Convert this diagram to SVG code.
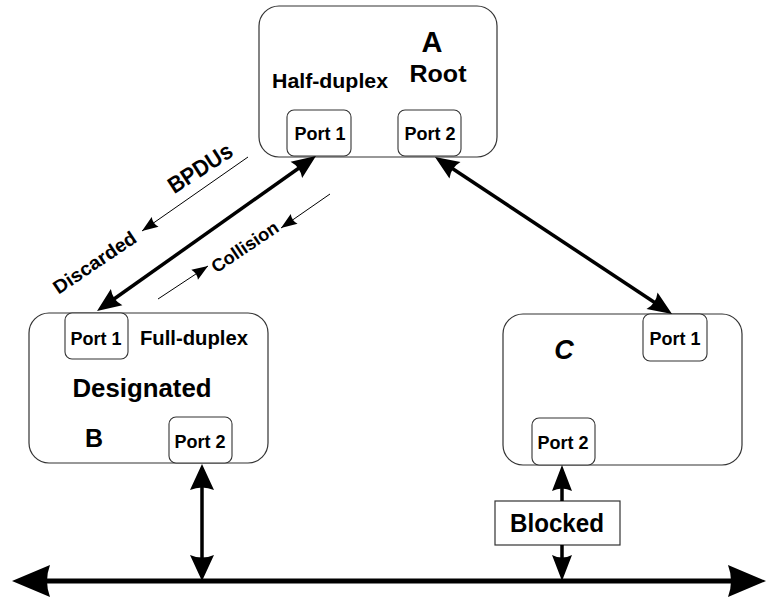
<svg xmlns="http://www.w3.org/2000/svg" width="768" height="601" viewBox="0 0 768 601">
  <style>
    .box { fill: #ffffff; stroke: #333333; stroke-width: 1.2; }
    .port { fill: #ffffff; stroke: #333333; stroke-width: 1.1; }
    .t { font-family: "Liberation Sans", "DejaVu Sans", sans-serif; font-weight: bold; fill: #000000; text-anchor: middle; }
    .thick { stroke: #000000; stroke-width: 3.5; fill: none; }
    .thin { stroke: #000000; stroke-width: 1; fill: none; }
    .bus { stroke: #000000; stroke-width: 5; fill: none; }
  </style>
  <defs>
    <marker id="ah" markerUnits="userSpaceOnUse" markerWidth="24" markerHeight="20" refX="14" refY="10" orient="auto-start-reverse" overflow="visible">
      <path d="M24,10 L0,0 Q5,10 0,20 Z" fill="#000"/>
    </marker>
    <marker id="av" markerUnits="userSpaceOnUse" markerWidth="26" markerHeight="24" refX="16" refY="12" orient="auto-start-reverse" overflow="visible">
      <path d="M26,12 L0,0 Q5,12 0,24 Z" fill="#000"/>
    </marker>
    <marker id="abl" markerUnits="userSpaceOnUse" markerWidth="26" markerHeight="20" refX="16" refY="10" orient="auto-start-reverse" overflow="visible">
      <path d="M26,10 L0,0 Q5,10 0,20 Z" fill="#000"/>
    </marker>
    <marker id="abus" markerUnits="userSpaceOnUse" markerWidth="38" markerHeight="32" refX="28" refY="16" orient="auto-start-reverse" overflow="visible">
      <path d="M38,16 L0,0 Q6,16 0,32 Z" fill="#000"/>
    </marker>
    <marker id="asm" markerUnits="userSpaceOnUse" markerWidth="16" markerHeight="12" refX="16" refY="6" orient="auto" overflow="visible">
      <path d="M16,6 L0,0 Q3,6 0,12 Z" fill="#000"/>
    </marker>
  </defs>

  <g id="node-A">
    <rect class="box" x="259" y="6" width="238" height="151" rx="20" ry="20"/>
    <text class="t" x="432" y="52" font-size="29">A</text>
    <text class="t" x="438" y="82" font-size="24" textLength="57" lengthAdjust="spacingAndGlyphs">Root</text>
    <text class="t" x="330" y="88" font-size="21" textLength="116" lengthAdjust="spacingAndGlyphs">Half-duplex</text>
    <g id="A-port1">
      <rect class="port" x="287" y="110" width="64" height="46" rx="7" ry="7"/>
      <text class="t" x="320" y="140" font-size="19" textLength="51" lengthAdjust="spacingAndGlyphs">Port 1</text>
    </g>
    <g id="A-port2">
      <rect class="port" x="398" y="110" width="63" height="46" rx="7" ry="7"/>
      <text class="t" x="430" y="140" font-size="19" textLength="51" lengthAdjust="spacingAndGlyphs">Port 2</text>
    </g>
  </g>

  <g id="node-B">
    <rect class="box" x="29" y="313" width="239" height="150" rx="20" ry="20"/>
    <g id="B-port1">
      <rect class="port" x="65" y="313" width="63" height="46" rx="7" ry="7"/>
      <text class="t" x="96" y="345" font-size="19" textLength="51" lengthAdjust="spacingAndGlyphs">Port 1</text>
    </g>
    <text class="t" x="194" y="345" font-size="20" textLength="108" lengthAdjust="spacingAndGlyphs">Full-duplex</text>
    <text class="t" x="142" y="397" font-size="26" textLength="139" lengthAdjust="spacingAndGlyphs">Designated</text>
    <text class="t" x="94" y="447" font-size="25">B</text>
    <g id="B-port2">
      <rect class="port" x="169" y="417" width="63" height="46" rx="7" ry="7"/>
      <text class="t" x="200" y="448" font-size="19" textLength="51" lengthAdjust="spacingAndGlyphs">Port 2</text>
    </g>
  </g>

  <g id="node-C">
    <rect class="box" x="503" y="314" width="239" height="151" rx="20" ry="20"/>
    <text class="t" x="564" y="359" font-size="27" font-style="italic">C</text>
    <g id="C-port1">
      <rect class="port" x="643" y="314" width="64" height="47" rx="7" ry="7"/>
      <text class="t" x="675" y="345" font-size="19" textLength="51" lengthAdjust="spacingAndGlyphs">Port 1</text>
    </g>
    <g id="C-port2">
      <rect class="port" x="532" y="418" width="63" height="47" rx="7" ry="7"/>
      <text class="t" x="563" y="449" font-size="19" textLength="51" lengthAdjust="spacingAndGlyphs">Port 2</text>
    </g>
  </g>

  <g id="blocked">
    <rect x="495" y="501" width="125" height="44" fill="#ffffff" stroke="#333333" stroke-width="1.2"/>
    <text class="t" x="557" y="532" font-size="26" textLength="94" lengthAdjust="spacingAndGlyphs">Blocked</text>
  </g>

  <g id="connectors">
    <line class="thick" x1="105.2" y1="305.2" x2="307.8" y2="161.8" marker-start="url(#ah)" marker-end="url(#ah)"/>
    <line class="thick" x1="443.3" y1="162.5" x2="663.7" y2="308.5" marker-start="url(#ah)" marker-end="url(#ah)"/>
    <line class="thick" x1="202" y1="474" x2="202" y2="571" stroke-width="3" marker-start="url(#av)" marker-end="url(#av)"/>
    <line class="thick" x1="562" y1="501" x2="562" y2="475" stroke-width="3" marker-end="url(#abl)"/>
    <line class="thick" x1="562" y1="545" x2="562" y2="571" stroke-width="3" marker-end="url(#abl)"/>
    <line class="bus" x1="22" y1="581" x2="756" y2="581" marker-start="url(#abus)" marker-end="url(#abus)"/>
    <line class="thin" x1="248" y1="157" x2="142" y2="231" marker-end="url(#asm)"/>
    <line class="thin" x1="330" y1="194" x2="281" y2="228" marker-end="url(#asm)"/>
    <line class="thin" x1="158" y1="299" x2="208" y2="266" marker-end="url(#asm)"/>
  </g>

  <g id="labels">
    <text class="t" font-size="23" transform="translate(200,168) rotate(-33)" y="8" textLength="72" lengthAdjust="spacingAndGlyphs">BPDUs</text>
    <text class="t" font-size="19" transform="translate(95,263) rotate(-34)" y="6" textLength="96" lengthAdjust="spacingAndGlyphs">Discarded</text>
    <text class="t" font-size="18" transform="translate(245,247) rotate(-34)" y="6" textLength="77" lengthAdjust="spacingAndGlyphs">Collision</text>
  </g>
</svg>
